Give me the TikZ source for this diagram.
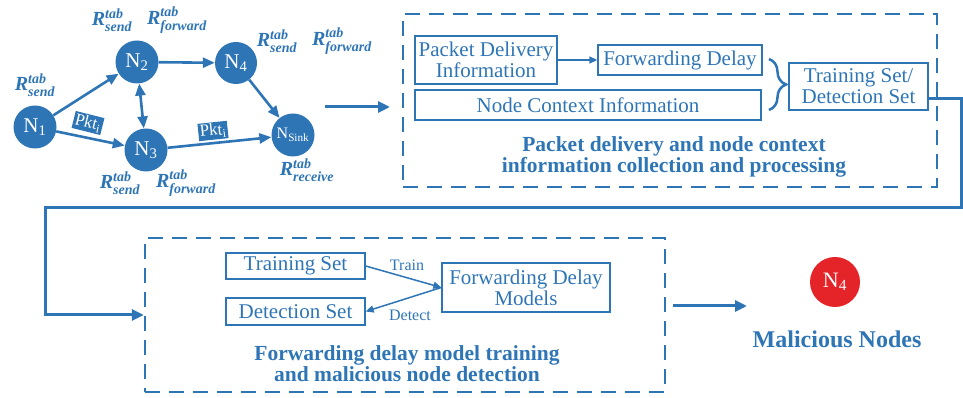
\documentclass[tikz,border=0pt]{standalone}
\usepackage{fontspec}
\setmainfont{Liberation Serif}
\usepackage{amsmath}
\usetikzlibrary{arrows.meta,decorations.pathreplacing}
\definecolor{netblue}{RGB}{46,117,182}
\definecolor{alarmred}{RGB}{228,36,40}
% record-table symbol R^{tab}_{kind} in bold italic
\newcommand{\rtab}[1]{$\textbf{\textit{R}}^{\textbf{\textit{tab}}}_{\textbf{\textit{#1}}}$}

\begin{document}
\begin{tikzpicture}[x=1pt,y=1pt,
  every node/.style={text=netblue},
  netnode/.style={circle, fill=netblue, minimum size=43pt, inner sep=0pt, text=white,
    font=\fontsize{21}{21}\selectfont},
  rlabel/.style={font=\fontsize{20}{20}\selectfont, inner sep=0pt},
  link/.style={draw=netblue, line width=2.6pt},
  pkt/.style={fill=netblue, text=white, font=\fontsize{17}{17}\selectfont, inner sep=1.5pt},
  stage/.style={draw=netblue, line width=2.4pt, dash pattern=on 15pt off 9pt, inner sep=0pt},
  infobox/.style={draw=netblue, line width=1.3pt, font=\fontsize{21}{21}\selectfont,
    inner sep=0pt, align=center},
  stagetitle/.style={font=\fontsize{21.5}{21}\selectfont\bfseries, align=center, inner sep=0pt},
  small/.style={font=\fontsize{16}{16}\selectfont, inner sep=0pt},
  flow/.style={draw=netblue, line width=3pt, -{Triangle[length=12pt,width=11pt]}},
  thinflow/.style={draw=netblue, line width=1.5pt, -{Triangle[length=8pt,width=7pt]}},
  >={Triangle[length=12pt,width=10pt]}
]
\useasboundingbox (0,0) rectangle (963,398);

% sensor network
\node[netnode] (n1) at (35,271) {N\textsubscript{1}};
\node[netnode] (n2) at (137,336) {N\textsubscript{2}};
\node[netnode] (n3) at (146,248) {N\textsubscript{3}};
\node[netnode, minimum size=42pt] (n4) at (236,335) {N\textsubscript{4}};
\node[netnode, font=\fontsize{16}{16}\selectfont] (sink) at (293,263) {N\textsubscript{Sink}};

\draw[link, ->] (n1) -- (n2);
\draw[link, ->] (n1) -- (n3);
\draw[link, <->] (n2) -- (n3);
\draw[link, ->] (n2) -- (n4);
\draw[link, ->] (n4) -- (sink);
\draw[link, ->] (n3) -- (sink);

\node[pkt, rotate=-14] (pkt1) at (88,275) {Pkt\textsubscript{i}};
\node[pkt, rotate=6] (pkt2) at (213,267) {Pkt\textsubscript{i}};

% record tables
\node[rlabel] (r1) at (35,313) {\rtab{send}};
\node[rlabel] (r2) at (112,378) {\rtab{send}};
\node[rlabel] (r3) at (177,378) {\rtab{forward}};
\node[rlabel] (r4) at (277,357) {\rtab{send}};
\node[rlabel] (r5) at (342,357) {\rtab{forward}};
\node[rlabel] (r6) at (120,215) {\rtab{send}};
\node[rlabel] (r7) at (186,215) {\rtab{forward}};
\node[rlabel] (r8) at (307,228) {\rtab{receive}};

\coordinate (a1s) at (325,291);
\coordinate (a1e) at (390,291);
\draw[flow] (a1s) -- (a1e);

% stage 1: collection and processing
\node[stage, minimum width=534pt, minimum height=173pt] (stage1) at (670,297.5) {};
\node[infobox, minimum width=142pt, minimum height=48pt] (pdi) at (486,338)
  {Packet Delivery\\Information};
\node[infobox, minimum width=164pt, minimum height=30pt] (fd) at (680,338) {Forwarding Delay};
\node[infobox, minimum width=346pt, minimum height=30pt] (nci) at (588,293) {Node Context Information};
\node[infobox, minimum width=139pt, minimum height=47pt] (tsds) at (858.5,311.5)
  {Training Set/\\Detection Set};
\draw[thinflow] (pdi.east |- fd.west) -- (fd.west);
\coordinate (brtop) at (769,339);
\coordinate (brbot) at (769,288);
\draw[netblue, line width=2.5pt, decorate, decoration={brace, amplitude=17pt}] (brtop) -- (brbot);
\node[stagetitle] (title1) at (674,241)
  {Packet delivery and node context\\information collection and processing};

% stage 2: model training and detection
\node[stage, minimum width=520pt, minimum height=154pt] (stage2) at (405,83) {};
\node[infobox, minimum width=139pt, minimum height=26pt] (ts) at (295.5,132) {Training Set};
\node[infobox, minimum width=139pt, minimum height=27pt] (ds) at (295.5,86.5) {Detection Set};
\node[infobox, minimum width=168pt, minimum height=49pt] (fdm) at (526,110.5)
  {Forwarding Delay\\Models};
\draw[thinflow] (ts.east) -- (fdm.west);
\draw[thinflow] (fdm.west) -- (ds.east);
\node[small] (train) at (407,133) {Train};
\node[small] (detect) at (410,83) {Detect};
\node[stagetitle] (title2) at (407,34)
  {Forwarding delay model training\\and malicious node detection};

% loop from stage 1 to stage 2
\coordinate (turnA) at (961,190);
\coordinate (turnB) at (45,190);
\draw[flow] ([yshift=-12.5pt]tsds.east) -| (turnA) -- (turnB) |- (stage2.west);

% result
\coordinate (a2s) at (673,92);
\coordinate (a2e) at (747,92);
\draw[flow] (a2s) -- (a2e);
\node[netnode, fill=alarmred, minimum size=50pt, font=\fontsize{22}{22}\selectfont] (bad) at (835,116)
  {N\textsubscript{4}};
\node[font=\fontsize{24}{24}\selectfont\bfseries, inner sep=0pt] (badlabel) at (837,59) {Malicious Nodes};
\end{tikzpicture}
\end{document}
